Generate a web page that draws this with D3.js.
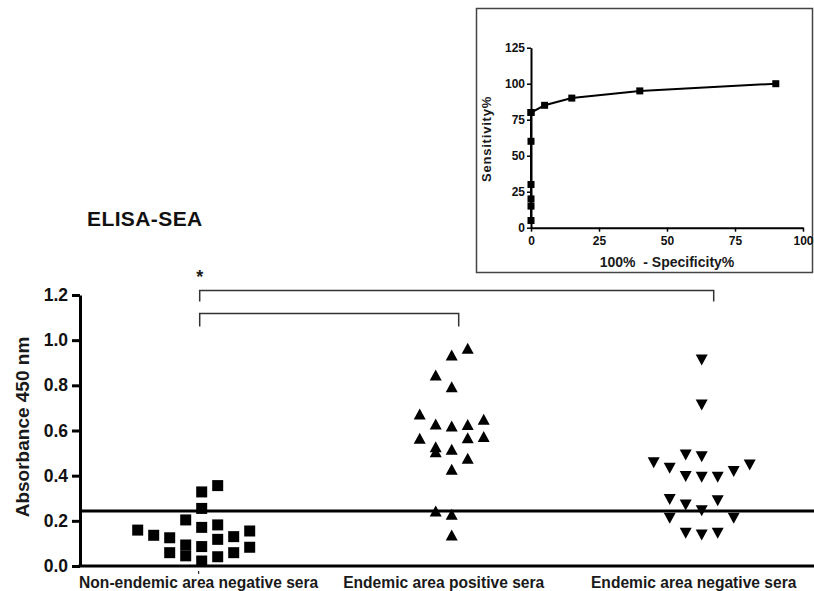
<!DOCTYPE html>
<html>
<head>
<meta charset="utf-8">
<script src="https://cdn.jsdelivr.net/npm/d3@7"></script>
<style>
  body { margin: 0; background: #fff; }
  svg { display: block; font-family: Arial, "Liberation Sans", sans-serif; }
  .axis text { font-weight: bold; fill: #111; }
</style>
</head>
<body>
<div id="chart"></div>
<script>
// categories
var groups = ["Non-endemic area negative sera", "Endemic area positive sera", "Endemic area negative sera"];
var yTicks = [0, 0.2, 0.4, 0.6, 0.8, 1.0, 1.2];
var cutoff = 0.243;

// group 1 : squares (value + column slot in the scatter)
var nonEndemicNeg    = [0.159, 0.136, 0.125, 0.059, 0.204, 0.093, 0.045, 0.328, 0.255, 0.171, 0.086, 0.022, 0.356, 0.182, 0.118, 0.041, 0.130, 0.059, 0.155, 0.083];
var nonEndemicNegCol = [-4, -3, -2, -2, -1, -1, -1, 0, 0, 0, 0, 0, 1, 1, 1, 1, 2, 2, 3, 3];

// group 2 : up triangles
var endemicPos    = [0.964, 0.934, 0.846, 0.794, 0.673, 0.629, 0.620, 0.627, 0.650, 0.566, 0.568, 0.573, 0.528, 0.506, 0.517, 0.477, 0.428, 0.244, 0.229, 0.137];
var endemicPosCol = [1, 0, -1, 0, -2, -1, 0, 1, 2, -2, 1, 2, -1, -1, 0, 1, 0, -1, 0, 0];

// group 3 : down triangles
var endemicNeg    = [0.912, 0.713, 0.492, 0.484, 0.457, 0.433, 0.396, 0.393, 0.393, 0.418, 0.447, 0.295, 0.270, 0.289, 0.245, 0.211, 0.211, 0.145, 0.137, 0.145];
var endemicNegCol = [0, 0, -1, 0, -3, -2, -1, 0, 1, 2, 3, -2, -1, 1, 0, -2, 2, -1, 0, 1];

// inset ROC curve
var rocX = [0, 0, 0, 0, 0, 0, 0, 5, 15, 40, 90];
var rocY = [5, 15, 20, 30, 60, 80, 80, 85, 90, 95, 100];
var rocXTicks = [0, 25, 50, 75, 100];
var rocYTicks = [0, 25, 50, 75, 100, 125];

var svgWidth = 814;
var svgHeight = 591;

var svg = d3.select("#chart")
    .append("svg")
    .attr("width", svgWidth)
    .attr("height", svgHeight);

// ---------- main dot plot ----------
var x = d3.scalePoint()
    .domain(groups)
    .range([76.7, 826.7])
    .padding(0.5);

var y = d3.scaleLinear()
    .domain([0, 1.2])
    .range([566, 295]);

var slot = 16; // spacing between scatter columns

var leftAxis = d3.axisLeft(y)
    .tickValues(yTicks)
    .tickFormat(d3.format(".1f"))
    .tickSize(8)
    .tickSizeOuter(0)
    .tickPadding(4);

var yAxis = svg.append("g")
    .attr("class", "axis")
    .attr("transform", "translate(80,0)")
    .call(leftAxis);
yAxis.select(".domain").attr("stroke", "#000").attr("stroke-width", 3);
yAxis.selectAll(".tick line").attr("stroke", "#000").attr("stroke-width", 3);
yAxis.selectAll("text").style("font-size", "17.5px");

// x axis line
svg.append("line")
    .attr("x1", 78.5).attr("x2", 814)
    .attr("y1", y(0)).attr("y2", y(0))
    .attr("stroke", "#000").attr("stroke-width", 3);

svg.append("line")
    .attr("x1", x(groups[0]) - 3).attr("x2", x(groups[0]) - 3)
    .attr("y1", y(0) + 5).attr("y2", y(0) + 8)
    .attr("stroke", "#000").attr("stroke-width", 1);

// labels sit a little left of the point columns
var labelShift = [-3, -8, -8];
svg.selectAll(".cat")
    .data(groups)
    .enter()
    .append("text")
    .attr("class", "cat")
    .attr("x", (d, i) => x(d) + labelShift[i])
    .attr("y", 588)
    .attr("text-anchor", "middle")
    .style("font-size", "15.6px")
    .style("font-weight", "bold")
    .style("fill", "#1a1a1a")
    .text(d => d);

// cutoff line
svg.append("line")
    .attr("x1", 80).attr("x2", 814)
    .attr("y1", y(cutoff)).attr("y2", y(cutoff))
    .attr("stroke", "#000").attr("stroke-width", 3);

// squares
svg.selectAll(".sq")
    .data(nonEndemicNeg)
    .enter()
    .append("rect")
    .attr("class", "sq")
    .attr("x", (d, i) => x(groups[0]) + nonEndemicNegCol[i] * slot - 5.5)
    .attr("y", d => y(d) - 5.5)
    .attr("width", 11)
    .attr("height", 11)
    .attr("fill", "#000");

// up triangles
svg.selectAll(".up")
    .data(endemicPos)
    .enter()
    .append("path")
    .attr("class", "up")
    .attr("d", "M0,-5.5L6,5.5L-6,5.5Z")
    .attr("transform", (d, i) => `translate(${x(groups[1]) + endemicPosCol[i] * slot}, ${y(d)})`)
    .attr("fill", "#000");

// down triangles
svg.selectAll(".down")
    .data(endemicNeg)
    .enter()
    .append("path")
    .attr("class", "down")
    .attr("d", "M0,5.5L6,-5.5L-6,-5.5Z")
    .attr("transform", (d, i) => `translate(${x(groups[2]) + endemicNegCol[i] * slot}, ${y(d)})`)
    .attr("fill", "#000");

// significance brackets
function bracket(x1, x2, top, drop) {
    svg.append("path")
        .attr("d", `M${x1},${top + drop}V${top}H${x2}V${top + drop}`)
        .attr("fill", "none")
        .attr("stroke", "#333")
        .attr("stroke-width", 1.5);
}
bracket(x(groups[0]) - 2, x(groups[1]) + 7, 313.5, 13);
bracket(x(groups[0]) - 2, x(groups[2]) + 12, 290.5, 11);

svg.append("text")
    .attr("x", x(groups[0]) - 2)
    .attr("y", 283)
    .attr("text-anchor", "middle")
    .style("font-size", "18px")
    .style("font-weight", "bold")
    .style("fill", "#1a1a1a")
    .text("*");

svg.append("text")
    .attr("x", 87)
    .attr("y", 226)
    .style("font-size", "21px")
    .style("font-weight", "bold")
    .style("letter-spacing", "0.4px")
    .style("fill", "#111")
    .text("ELISA-SEA");

svg.append("text")
    .attr("transform", "translate(29, 427) rotate(-90)")
    .attr("text-anchor", "middle")
    .style("font-size", "19px")
    .style("font-weight", "bold")
    .style("fill", "#1a1a1a")
    .text("Absorbance 450 nm");

// ---------- inset ROC ----------
svg.append("rect")
    .attr("x", 476.5).attr("y", 8.5)
    .attr("width", 336).attr("height", 264)
    .attr("fill", "#fff")
    .attr("stroke", "#444")
    .attr("stroke-width", 1.5);

var rx = d3.scaleLinear().domain([0, 100]).range([531, 803]);
var ry = d3.scaleLinear().domain([0, 125]).range([227.7, 47.7]);

var rLeft = svg.append("g")
    .attr("class", "axis")
    .attr("transform", "translate(531,0)")
    .call(d3.axisLeft(ry).tickValues(rocYTicks).tickSize(4).tickSizeOuter(0).tickPadding(2));
var rBottom = svg.append("g")
    .attr("class", "axis")
    .attr("transform", `translate(0,${ry(0)})`)
    .call(d3.axisBottom(rx).tickValues(rocXTicks).tickSize(4).tickSizeOuter(0).tickPadding(5));
[rLeft, rBottom].forEach(function(g) {
    g.select(".domain").attr("stroke", "#000").attr("stroke-width", 2);
    g.selectAll(".tick line").attr("stroke", "#000").attr("stroke-width", 1.5);
    g.selectAll("text").style("font-size", "12px");
});

var rocPts = rocX.map((d, i) => [d, rocY[i]]);

svg.append("path")
    .datum(rocPts)
    .attr("d", d3.line().x(d => rx(d[0])).y(d => ry(d[1])))
    .attr("fill", "none")
    .attr("stroke", "#000")
    .attr("stroke-width", 2);

svg.selectAll(".rocpt")
    .data(rocPts)
    .enter()
    .append("rect")
    .attr("class", "rocpt")
    .attr("x", d => rx(d[0]) - 3.5)
    .attr("y", d => ry(d[1]) - 3.5)
    .attr("width", 7)
    .attr("height", 7)
    .attr("fill", "#000");

svg.append("text")
    .attr("x", 667)
    .attr("y", 267)
    .attr("text-anchor", "middle")
    .style("font-size", "14px")
    .style("font-weight", "bold")
    .style("white-space", "pre")
    .style("fill", "#1a1a1a")
    .text("100%  - Specificity%");

svg.append("text")
    .attr("transform", "translate(491, 139) rotate(-90)")
    .attr("text-anchor", "middle")
    .style("font-size", "13px")
    .style("font-weight", "bold")
    .style("letter-spacing", "0.8px")
    .style("fill", "#1a1a1a")
    .text("Sensitivity%");
</script>
</body>
</html>
